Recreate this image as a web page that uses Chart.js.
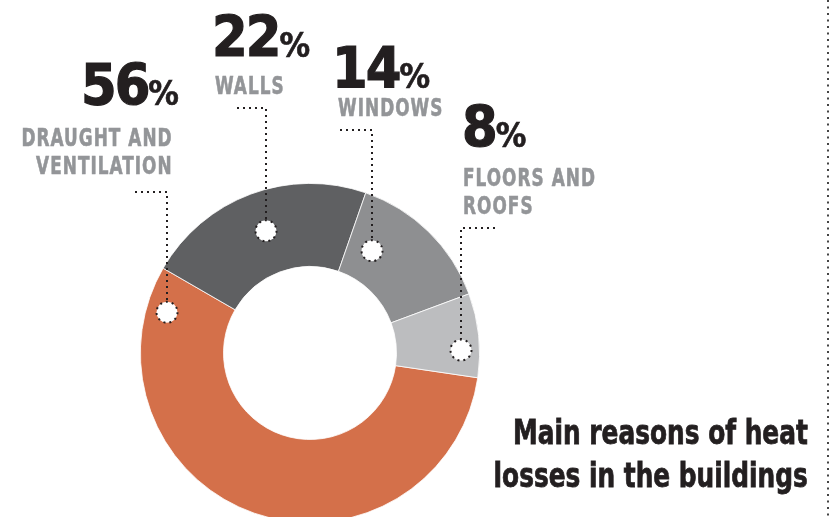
<!DOCTYPE html>
<html>
<head>
<meta charset="utf-8">
<script src="https://cdn.jsdelivr.net/npm/chart.js@4"></script>
<style>
  html, body { margin: 0; padding: 0; background: #fff; width: 836px; height: 517px; overflow: hidden; }
  body { position: relative; font-family: "DejaVu Sans Condensed", "DejaVu Sans", sans-serif; font-weight: bold; }
  #chartBox { position: absolute; left: 0; top: 0; width: 836px; height: 530px; }
  .num, .cat, .title { position: absolute; white-space: nowrap; }
  .num { font-size: 57px; line-height: 57px; color: #231f20; letter-spacing: -2px; -webkit-text-stroke: 1.2px #231f20; }
  .num .pct { font-size: 34px; letter-spacing: 0; -webkit-text-stroke: 0.6px #231f20; }
  .cat { font-size: 25px; line-height: 28px; color: #939598; letter-spacing: 1.4px; transform: scaleX(0.75);
         -webkit-text-stroke: 0.6px #939598; }
  .title { right: 28px; top: 411px; text-align: right; font-size: 34.5px; line-height: 43px; color: #231f20;
           transform: scaleX(0.8); transform-origin: right top; -webkit-text-stroke: 0.8px #231f20; }
</style>
</head>
<body>
<div id="chartBox"><canvas id="heatChart"></canvas></div>
<div id="labels"></div>
<div class="title">Main reasons of heat<br>losses in the buildings</div>
<script>
// data
const categories = ["DRAUGHT AND VENTILATION", "WALLS", "WINDOWS", "FLOORS AND ROOFS"];
const shares = [56, 22, 14, 8];
const colors = ["#d4704a", "#5f6062", "#8e8f91", "#bcbdbf"];
const catLines = [["DRAUGHT AND", "VENTILATION"], ["WALLS"], ["WINDOWS"], ["FLOORS AND", "ROOFS"]];

// label layout: number box, category box, leader elbow, marker spot on the ring
const labelLayout = [
  { align: "right", numX: 179, numTop: 57, catX: 173, catTop: 124, lineY: 192, lineX0: 135, circT: 0.93, circF: 0.75 },
  { align: "left", numX: 212, numTop: 9, catX: 215, catTop: 72, lineY: 108, lineX0: 237, circT: 0.51, circF: 0.52 },
  { align: "left", numX: 332, numTop: 40, catX: 338, catTop: 94, lineY: 130, lineX0: 340, circT: 0.24, circF: 0.40 },
  { align: "left", numX: 462, numTop: 99, catX: 463, catTop: 164, lineY: 228, lineX0: 495, circT: 0.67, circF: 0.78 },
];

// html labels
const labelsDiv = document.getElementById("labels");
shares.forEach((v, i) => {
  const lay = labelLayout[i];
  const num = document.createElement("div");
  num.className = "num";
  num.innerHTML = v + '<span class="pct">%</span>';
  num.style.top = lay.numTop + "px";
  const cat = document.createElement("div");
  cat.className = "cat";
  cat.innerHTML = catLines[i].join("<br>");
  cat.style.top = lay.catTop + "px";
  if (lay.align === "right") {
    num.style.right = 836 - lay.numX + "px";
    cat.style.right = 836 - lay.catX + "px";
    cat.style.textAlign = "right";
    cat.style.transformOrigin = "right top";
  } else {
    num.style.left = lay.numX + "px";
    cat.style.left = lay.catX + "px";
    cat.style.transformOrigin = "left top";
  }
  labelsDiv.appendChild(num);
  labelsDiv.appendChild(cat);
});

// plugin: dotted leaders, white markers on the ring, dotted rule on the right
const leaderPlugin = {
  id: "leaders",
  afterDatasetsDraw(chart) {
    const ctx = chart.ctx;
    const arcs = chart.getDatasetMeta(0).data;
    ctx.save();
    ctx.strokeStyle = "#231f20";
    ctx.lineWidth = 2;
    arcs.forEach((arc, i) => {
      const lay = labelLayout[i];
      const p = arc.getProps(["x", "y", "startAngle", "endAngle", "innerRadius", "outerRadius"], true);
      const a = p.startAngle + lay.circT * (p.endAngle - p.startAngle);
      const r = p.innerRadius + lay.circF * (p.outerRadius - p.innerRadius);
      const cx = Math.round(p.x + Math.cos(a) * r);
      const cy = p.y + Math.sin(a) * r;

      ctx.setLineDash([2, 4]);
      ctx.beginPath();
      ctx.moveTo(lay.lineX0, lay.lineY);
      ctx.lineTo(cx, lay.lineY);
      ctx.lineTo(cx, cy - 11);
      ctx.stroke();

      ctx.setLineDash([]);
      ctx.fillStyle = "#fff";
      ctx.beginPath();
      ctx.arc(cx, cy, 10.5, 0, Math.PI * 2);
      ctx.fill();
      ctx.setLineDash([2, 4]);
      ctx.beginPath();
      ctx.arc(cx, cy, 10.5, 0, Math.PI * 2);
      ctx.stroke();
    });
    // vertical dotted rule at the right edge
    ctx.strokeStyle = "#444";
    ctx.setLineDash([2, 4.5]);
    ctx.beginPath();
    ctx.moveTo(828, 0);
    ctx.lineTo(828, 517);
    ctx.stroke();
    ctx.restore();
  },
};

const ctx = document.getElementById("heatChart").getContext("2d");
new Chart(ctx, {
  type: "doughnut",
  data: {
    labels: categories,
    datasets: [
      {
        data: shares,
        backgroundColor: colors,
        borderColor: "#ffffff",
        borderWidth: 0.8,
      },
    ],
  },
  options: {
    responsive: true,
    maintainAspectRatio: false,
    animation: false,
    rotation: 98.4, // orange slice starts just below 3 o'clock
    cutout: "51%",
    layout: { padding: { left: 140, right: 356, top: 183, bottom: 7 } },
    plugins: {
      legend: { display: false },
      tooltip: { enabled: false },
    },
  },
  plugins: [leaderPlugin],
});
</script>
</body>
</html>
